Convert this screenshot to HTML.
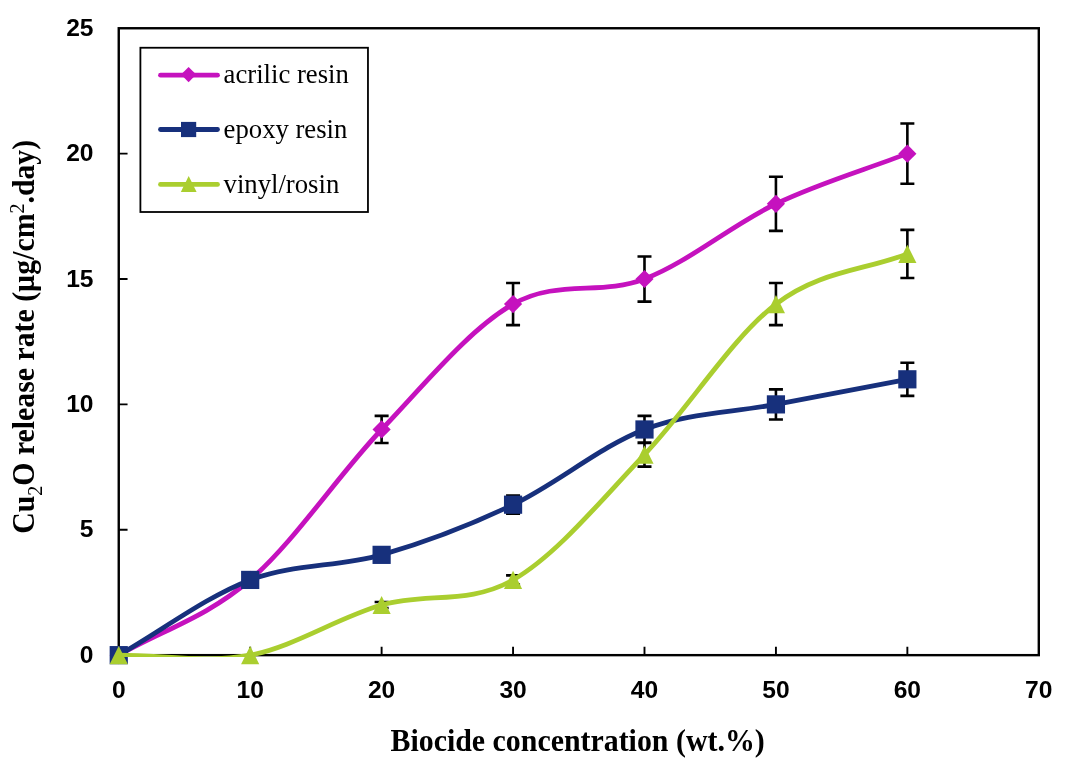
<!DOCTYPE html><html><head><meta charset="utf-8"><style>html,body{margin:0;padding:0;background:#fff;}svg{display:block;will-change:transform;}</style></head><body>
<svg width="1068" height="768" viewBox="0 0 1068 768">
<rect width="1068" height="768" fill="#fff"/>
<path d="M118.75,529.77 h8.8 M118.75,404.39 h8.8 M118.75,279.01 h8.8 M118.75,153.63 h8.8 M250.19,655.15 v-8.5 M381.62,655.15 v-8.5 M513.06,655.15 v-8.5 M644.49,655.15 v-8.5 M775.93,655.15 v-8.5 M907.36,655.15 v-8.5" stroke="#000" stroke-width="1.9" fill="none"/>
<rect x="118.75" y="28.25" width="920.05" height="626.90" fill="none" stroke="#000" stroke-width="2.4"/>
<g font-family="Liberation Sans, sans-serif" font-weight="bold" font-size="24.6" fill="#000">
<text x="93.5" y="662.85" text-anchor="end">0</text>
<text x="93.5" y="537.47" text-anchor="end">5</text>
<text x="93.5" y="412.09" text-anchor="end">10</text>
<text x="93.5" y="286.71" text-anchor="end">15</text>
<text x="93.5" y="161.33" text-anchor="end">20</text>
<text x="93.5" y="35.95" text-anchor="end">25</text>
<text x="118.75" y="697.8" text-anchor="middle">0</text>
<text x="250.19" y="697.8" text-anchor="middle">10</text>
<text x="381.62" y="697.8" text-anchor="middle">20</text>
<text x="513.06" y="697.8" text-anchor="middle">30</text>
<text x="644.49" y="697.8" text-anchor="middle">40</text>
<text x="775.93" y="697.8" text-anchor="middle">50</text>
<text x="907.36" y="697.8" text-anchor="middle">60</text>
<text x="1038.80" y="697.8" text-anchor="middle">70</text>
</g>
<rect x="140.4" y="47.75" width="227.56" height="164.25" fill="#fff" stroke="#000" stroke-width="1.8"/>
<path d="M250.19,575.41 V584.44 M243.19,575.41 h14 M243.19,584.44 h14 M381.62,415.92 V443.01 M374.62,415.92 h14 M374.62,443.01 h14 M513.06,283.02 V325.15 M506.06,283.02 h14 M506.06,325.15 h14 M644.49,256.44 V301.58 M637.49,256.44 h14 M637.49,301.58 h14 M775.93,176.70 V230.86 M768.93,176.70 h14 M768.93,230.86 h14 M907.36,123.54 V183.72 M900.36,123.54 h14 M900.36,183.72 h14 M250.19,575.41 V584.44 M243.19,575.41 h14 M243.19,584.44 h14 M381.62,548.83 V560.86 M374.62,548.83 h14 M374.62,560.86 h14 M513.06,495.67 V513.72 M506.06,495.67 h14 M506.06,513.72 h14 M644.49,415.92 V443.01 M637.49,415.92 h14 M637.49,443.01 h14 M775.93,389.34 V419.44 M768.93,389.34 h14 M768.93,419.44 h14 M907.36,362.76 V395.86 M900.36,362.76 h14 M900.36,395.86 h14 M381.62,601.99 V608.01 M374.62,601.99 h14 M374.62,608.01 h14 M513.06,575.41 V584.44 M506.06,575.41 h14 M506.06,584.44 h14 M644.49,442.51 V466.58 M637.49,442.51 h14 M637.49,466.58 h14 M775.93,283.02 V325.15 M768.93,283.02 h14 M768.93,325.15 h14 M907.36,229.86 V278.01 M900.36,229.86 h14 M900.36,278.01 h14" stroke="#000" stroke-width="2.6" fill="none"/>
<defs><clipPath id="pc"><rect x="117.55" y="27.05" width="922.45" height="630.00"/></clipPath></defs>
<path clip-path="url(#pc)" d="M118.75,655.15 C162.56,630.07 206.37,617.54 250.19,579.92 C294.00,542.31 337.81,475.44 381.62,429.47 C425.43,383.49 469.25,329.16 513.06,304.09 C556.87,279.01 600.68,295.73 644.49,279.01 C688.30,262.29 732.12,224.68 775.93,203.78 C819.74,182.89 863.55,170.35 907.36,153.63" stroke="#C512BE" stroke-width="4.8" fill="none" stroke-linecap="round" stroke-linejoin="round"/>
<path d="M118.75,646.05 L127.85,655.15 L118.75,664.25 L109.65,655.15 Z" fill="#C512BE"/>
<path d="M250.19,570.82 L259.29,579.92 L250.19,589.02 L241.09,579.92 Z" fill="#C512BE"/>
<path d="M381.62,420.37 L390.72,429.47 L381.62,438.57 L372.52,429.47 Z" fill="#C512BE"/>
<path d="M513.06,294.99 L522.16,304.09 L513.06,313.19 L503.96,304.09 Z" fill="#C512BE"/>
<path d="M644.49,269.91 L653.59,279.01 L644.49,288.11 L635.39,279.01 Z" fill="#C512BE"/>
<path d="M775.93,194.68 L785.03,203.78 L775.93,212.88 L766.83,203.78 Z" fill="#C512BE"/>
<path d="M907.36,144.53 L916.46,153.63 L907.36,162.73 L898.26,153.63 Z" fill="#C512BE"/>
<path clip-path="url(#pc)" d="M118.75,655.15 C162.56,630.07 206.37,596.64 250.19,579.92 C294.00,563.20 337.81,567.38 381.62,554.85 C425.43,542.31 469.25,525.59 513.06,504.69 C556.87,483.80 600.68,446.18 644.49,429.47 C688.30,412.75 732.12,412.75 775.93,404.39 C819.74,396.03 863.55,387.67 907.36,379.31" stroke="#17307C" stroke-width="4.8" fill="none" stroke-linecap="round" stroke-linejoin="round"/>
<rect x="109.65" y="646.05" width="18.20" height="18.20" fill="#17307C"/>
<rect x="241.09" y="570.82" width="18.20" height="18.20" fill="#17307C"/>
<rect x="372.52" y="545.75" width="18.20" height="18.20" fill="#17307C"/>
<rect x="503.96" y="495.59" width="18.20" height="18.20" fill="#17307C"/>
<rect x="635.39" y="420.37" width="18.20" height="18.20" fill="#17307C"/>
<rect x="766.83" y="395.29" width="18.20" height="18.20" fill="#17307C"/>
<rect x="898.26" y="370.21" width="18.20" height="18.20" fill="#17307C"/>
<path clip-path="url(#pc)" d="M118.75,655.15 C162.56,655.15 206.37,663.51 250.19,655.15 C294.00,646.79 337.81,617.54 381.62,605.00 C425.43,592.46 469.25,605.00 513.06,579.92 C556.87,554.85 600.68,500.51 644.49,454.54 C688.30,408.57 732.12,337.52 775.93,304.09 C819.74,270.65 863.55,270.65 907.36,253.93" stroke="#AACE2F" stroke-width="4.8" fill="none" stroke-linecap="round" stroke-linejoin="round"/>
<path d="M118.75,646.05 L127.85,664.25 L109.65,664.25 Z" fill="#AACE2F"/>
<path d="M250.19,646.05 L259.29,664.25 L241.09,664.25 Z" fill="#AACE2F"/>
<path d="M381.62,595.90 L390.72,614.10 L372.52,614.10 Z" fill="#AACE2F"/>
<path d="M513.06,570.82 L522.16,589.02 L503.96,589.02 Z" fill="#AACE2F"/>
<path d="M644.49,445.44 L653.59,463.64 L635.39,463.64 Z" fill="#AACE2F"/>
<path d="M775.93,294.99 L785.03,313.19 L766.83,313.19 Z" fill="#AACE2F"/>
<path d="M907.36,244.83 L916.46,263.03 L898.26,263.03 Z" fill="#AACE2F"/>
<path d="M160.5,75.20 H217.5" stroke="#C512BE" stroke-width="4.8" stroke-linecap="round"/>
<path d="M188.60,67.00 L196.20,74.60 L188.60,82.20 L181.00,74.60 Z" fill="#C512BE"/>
<text x="223.6" y="83.40" font-family="Liberation Serif, serif" font-size="26.7" fill="#000">acrilic resin</text>
<path d="M160.5,129.50 H217.5" stroke="#17307C" stroke-width="4.8" stroke-linecap="round"/>
<rect x="181.00" y="121.90" width="15.20" height="15.20" fill="#17307C"/>
<text x="223.6" y="137.70" font-family="Liberation Serif, serif" font-size="26.7" fill="#000">epoxy resin</text>
<path d="M160.5,184.40 H217.5" stroke="#AACE2F" stroke-width="4.8" stroke-linecap="round"/>
<path d="M188.70,176.10 L196.60,191.90 L180.80,191.90 Z" fill="#AACE2F"/>
<text x="223.6" y="192.60" font-family="Liberation Serif, serif" font-size="26.7" fill="#000">vinyl/rosin</text>
<text transform="translate(577.6,750.6) scale(1,1.035)" x="0" y="0" text-anchor="middle" font-family="Liberation Serif, serif" font-weight="bold" font-size="29.9" fill="#000">Biocide concentration (wt.%)</text>
<text transform="translate(34.2,336.8) rotate(-90) scale(1,1.075)" text-anchor="middle" font-family="Liberation Serif, serif" font-weight="bold" font-size="29.8" fill="#000">Cu<tspan font-size="20" font-weight="normal" dy="7">2</tspan><tspan dy="-7">O release rate (µg/cm</tspan><tspan font-size="20" font-weight="normal" dy="-9.2">2</tspan><tspan dy="9.2">.day)</tspan></text>
</svg></body></html>
